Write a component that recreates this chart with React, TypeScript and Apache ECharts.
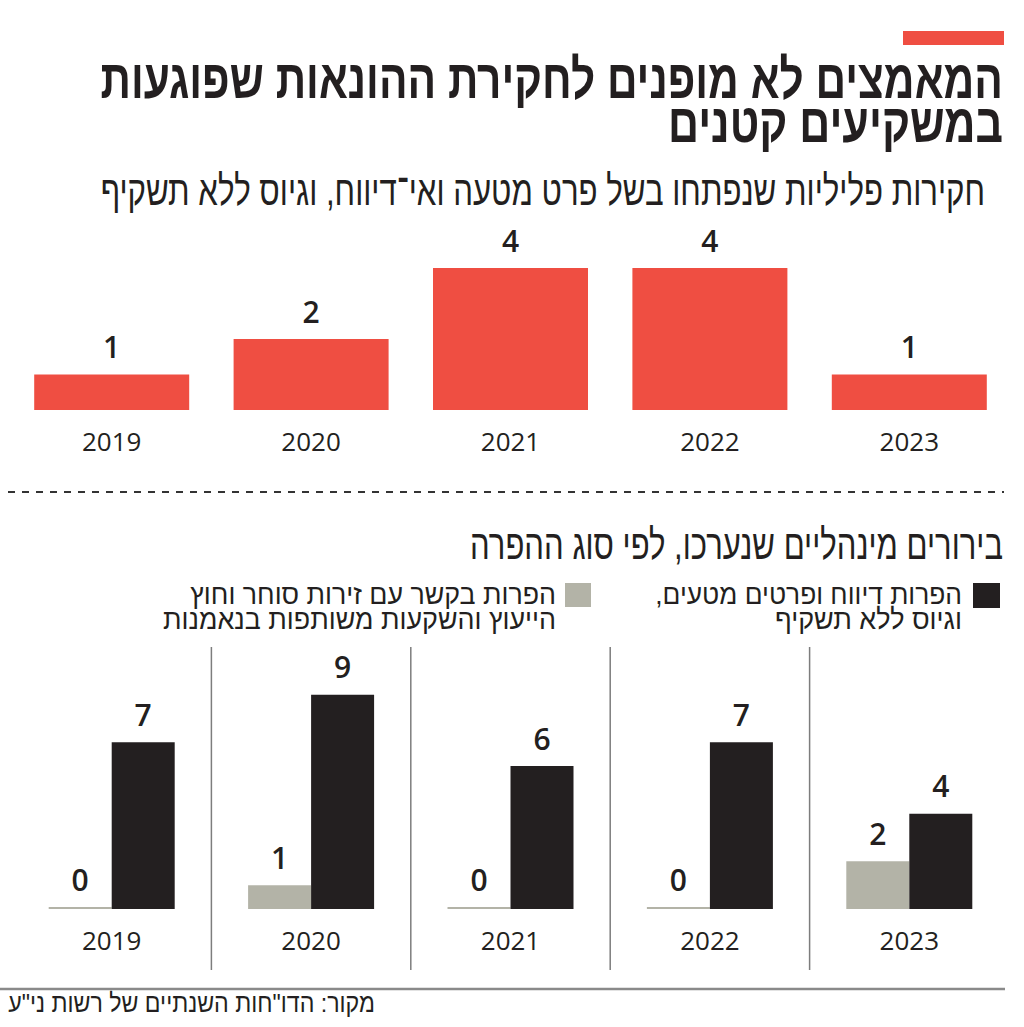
import React, { useEffect, useRef } from "react";
import * as echarts from "echarts";

// ---------- data ----------
const years = ["2019", "2020", "2021", "2022", "2023"];
const criminalInvestigations = [1, 2, 4, 4, 1];
const reportingViolations = [7, 9, 6, 7, 4];
const tradingViolations = [0, 1, 0, 0, 2];

// ---------- texts ----------
const title1 = "המאמצים לא מופנים לחקירת ההונאות שפוגעות";
const title2 = "במשקיעים קטנים";
const subtitleTop = "חקירות פליליות שנפתחו בשל פרט מטעה ואי־דיווח, וגיוס ללא תשקיף";
const subtitleBottom = "בירורים מינהליים שנערכו, לפי סוג ההפרה";
const legendBlack = ["הפרות דיווח ופרטים מטעים,\u200F", "וגיוס ללא תשקיף"];
const legendGray = ["הפרות בקשר עם זירות סוחר וחוץ", "הייעוץ והשקעות משותפות בנאמנות"];
const sourceText = "מקור: הדו\"חות השנתיים של רשות ני\"ע";

const RED = "#ef4e42";
const BLACK = "#231f20";
const GRAY = "#b3b3a7";
const HEB_FONT = "'Liberation Sans', 'DejaVu Sans', sans-serif";
const NUM_FONT = "'Open Sans', 'Noto Sans', sans-serif";

const W = 1024;
const H = 1027;
const GRID_LEFT = 12;
const GRID_W = 997;

function measure(text: string, font: string): number {
  const c = document.createElement("canvas");
  const ctx = c.getContext("2d")!;
  ctx.font = font;
  return ctx.measureText(text).width;
}

function hebText(
  text: string,
  xRight: number,
  yMid: number,
  size: number,
  weight: string,
  targetWidth: number
) {
  const w = measure(text, `${weight} ${size}px 'Liberation Sans'`);
  const sx = w > 0 ? targetWidth / w : 1;
  return {
    type: "text",
    x: xRight,
    y: yMid,
    scaleX: sx,
    silent: true,
    style: {
      text,
      fontSize: size,
      fontFamily: HEB_FONT,
      fontWeight: weight,
      fill: BLACK,
      align: "right",
      verticalAlign: "middle",
    },
  };
}

export default function App() {
  const ref = useRef<HTMLDivElement>(null);

  useEffect(() => {
    document.body.style.margin = "0";
    if (!ref.current) return;
    const chart = echarts.init(ref.current, undefined, { renderer: "svg", width: W, height: H });

    const catW = GRID_W / years.length;
    const separators = [1, 2, 3, 4].map((i) => ({
      type: "line",
      silent: true,
      shape: { x1: GRID_LEFT + i * catW, y1: 647, x2: GRID_LEFT + i * catW, y2: 970 },
      style: { stroke: "#7d7d7d", lineWidth: 1.5 },
    }));

    const graphic: any[] = [
      { type: "rect", silent: true, shape: { x: 903, y: 31, width: 101, height: 14 }, style: { fill: RED } },
      hebText(title1, 1003, 79, 55, "bold", 903),
      hebText(title2, 1003, 123, 55, "bold", 335),
      hebText(subtitleTop, 985, 191, 42, "normal", 885),
      { type: "line", silent: true, shape: { x1: 8, y1: 492, x2: 1004, y2: 492 }, style: { stroke: "#333", lineWidth: 2, lineDash: [7, 7] } },
      hebText(subtitleBottom, 1003, 545, 42, "normal", 533),
      { type: "rect", silent: true, shape: { x: 973, y: 583, width: 27, height: 25 }, style: { fill: BLACK } },
      hebText(legendBlack[0], 962, 594, 28, "normal", 307),
      hebText(legendBlack[1], 962, 619, 28, "normal", 187),
      { type: "rect", silent: true, shape: { x: 565, y: 583, width: 26, height: 24 }, style: { fill: GRAY } },
      hebText(legendGray[0], 556, 594, 28, "normal", 366),
      hebText(legendGray[1], 556, 619, 28, "normal", 393),
      ...separators,
      { type: "line", silent: true, shape: { x1: 0, y1: 989, x2: 1005, y2: 989 }, style: { stroke: "#8a8a8a", lineWidth: 2.5 } },
      hebText(sourceText, 375, 1003, 26, "normal", 367),
    ];

    const xAxisBase = {
      type: "category",
      data: years,
      axisLine: { show: false },
      axisTick: { show: false },
      splitLine: { show: false },
      axisLabel: { fontFamily: NUM_FONT, fontSize: 26, color: BLACK, margin: 18 },
    };
    const labelBase = {
      show: true,
      position: "top",
      distance: 13,
      fontFamily: NUM_FONT,
      fontSize: 30,
      fontWeight: 600,
      color: BLACK,
    };

    chart.setOption({
      animation: false,
      backgroundColor: "#ffffff",
      grid: [
        { left: GRID_LEFT, width: GRID_W, top: 268, bottom: H - 410 },
        { left: GRID_LEFT, width: GRID_W, top: 647, bottom: H - 909 },
      ],
      xAxis: [
        { ...xAxisBase, gridIndex: 0 },
        { ...xAxisBase, gridIndex: 1 },
      ],
      yAxis: [
        { type: "value", gridIndex: 0, min: 0, max: 4, show: false },
        { type: "value", gridIndex: 1, min: 0, max: 11, show: false },
      ],
      series: [
        {
          type: "bar",
          xAxisIndex: 0,
          yAxisIndex: 0,
          data: criminalInvestigations,
          barWidth: 155,
          itemStyle: { color: RED },
          label: labelBase,
        },
        {
          type: "bar",
          xAxisIndex: 1,
          yAxisIndex: 1,
          data: tradingViolations,
          barWidth: 63,
          barGap: "0%",
          barMinHeight: 2,
          itemStyle: { color: GRAY },
          label: labelBase,
        },
        {
          type: "bar",
          xAxisIndex: 1,
          yAxisIndex: 1,
          data: reportingViolations,
          barWidth: 63,
          barGap: "0%",
          itemStyle: { color: BLACK },
          label: labelBase,
        },
      ],
      graphic,
    });

    return () => chart.dispose();
  }, []);

  return <div ref={ref} style={{ width: W, height: H, position: "absolute", left: 0, top: 0 }} />;
}
